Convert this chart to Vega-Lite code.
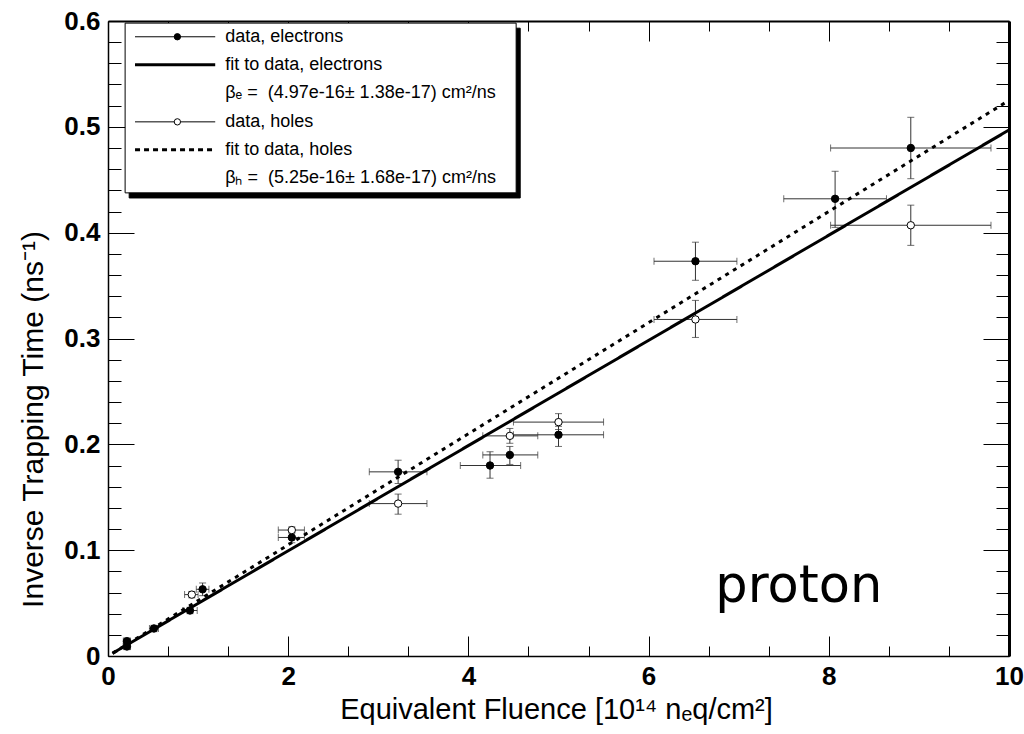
{
  "$schema": "https://vega.github.io/schema/vega-lite/v6.json",
  "width": 901,
  "height": 635,
  "autosize": "none",
  "padding": {"left": 108, "top": 21, "right": 15, "bottom": 78},
  "background": "white",
  "config": {"view": {"stroke": null}, "axis": {"grid": false, "tickColor": "black", "domainColor": "black"}},
  "datasets": {
    "pts": [
      {"type": "electrons", "x": 0.21, "y": 0.009, "xlo": 0.17, "xhi": 0.25, "ylo": 0.006, "yhi": 0.012},
      {"type": "electrons", "x": 0.21, "y": 0.014, "xlo": 0.17, "xhi": 0.25, "ylo": 0.011, "yhi": 0.017},
      {"type": "electrons", "x": 0.51, "y": 0.026, "xlo": 0.46, "xhi": 0.56, "ylo": 0.023, "yhi": 0.029},
      {"type": "electrons", "x": 0.91, "y": 0.043, "xlo": 0.83, "xhi": 0.99, "ylo": 0.040, "yhi": 0.046},
      {"type": "electrons", "x": 1.05, "y": 0.063, "xlo": 0.98, "xhi": 1.12, "ylo": 0.057, "yhi": 0.069},
      {"type": "electrons", "x": 2.04, "y": 0.112, "xlo": 1.89, "xhi": 2.18, "ylo": 0.107, "yhi": 0.117},
      {"type": "electrons", "x": 3.22, "y": 0.174, "xlo": 2.90, "xhi": 3.54, "ylo": 0.163, "yhi": 0.185},
      {"type": "electrons", "x": 4.24, "y": 0.180, "xlo": 3.91, "xhi": 4.58, "ylo": 0.168, "yhi": 0.193},
      {"type": "electrons", "x": 4.46, "y": 0.190, "xlo": 4.16, "xhi": 4.77, "ylo": 0.181, "yhi": 0.198},
      {"type": "electrons", "x": 5.00, "y": 0.209, "xlo": 4.50, "xhi": 5.50, "ylo": 0.198, "yhi": 0.217},
      {"type": "electrons", "x": 6.52, "y": 0.373, "xlo": 6.06, "xhi": 6.98, "ylo": 0.355, "yhi": 0.391},
      {"type": "electrons", "x": 8.07, "y": 0.432, "xlo": 7.50, "xhi": 8.64, "ylo": 0.405, "yhi": 0.458},
      {"type": "electrons", "x": 8.91, "y": 0.480, "xlo": 8.02, "xhi": 9.80, "ylo": 0.451, "yhi": 0.509},
      {"type": "holes", "x": 0.93, "y": 0.058, "xlo": 0.85, "xhi": 1.00, "ylo": 0.055, "yhi": 0.061},
      {"type": "holes", "x": 2.04, "y": 0.119, "xlo": 1.89, "xhi": 2.18, "ylo": 0.116, "yhi": 0.122},
      {"type": "holes", "x": 3.22, "y": 0.144, "xlo": 2.90, "xhi": 3.54, "ylo": 0.134, "yhi": 0.153},
      {"type": "holes", "x": 4.46, "y": 0.208, "xlo": 4.16, "xhi": 4.77, "ylo": 0.201, "yhi": 0.215},
      {"type": "holes", "x": 5.00, "y": 0.221, "xlo": 4.50, "xhi": 5.50, "ylo": 0.214, "yhi": 0.229},
      {"type": "holes", "x": 6.52, "y": 0.318, "xlo": 6.06, "xhi": 6.98, "ylo": 0.301, "yhi": 0.336},
      {"type": "holes", "x": 8.91, "y": 0.407, "xlo": 8.02, "xhi": 9.80, "ylo": 0.388, "yhi": 0.426}
    ],
    "fit": [
      {"type": "electrons", "x": 0.05, "y": 0.0025},
      {"type": "electrons", "x": 10, "y": 0.497},
      {"type": "holes", "x": 0.05, "y": 0.0026},
      {"type": "holes", "x": 10, "y": 0.525}
    ],
    "legbox": [
      {"part": "shadow", "x": 0.235, "x2": 4.575, "y": 0.4328, "y2": 0.5932},
      {"part": "box", "x": 0.19, "x2": 4.53, "y": 0.4376, "y2": 0.598}
    ],
    "leglines": [
      {"entry": "data, electrons", "x": 0.30, "x2": 1.19, "y": 0.5851},
      {"entry": "fit to data, electrons", "x": 0.30, "x2": 1.19, "y": 0.5586},
      {"entry": "data, holes", "x": 0.30, "x2": 1.19, "y": 0.5047},
      {"entry": "fit to data, holes", "x": 0.30, "x2": 1.19, "y": 0.4783}
    ],
    "legmarks": [
      {"type": "electrons", "x": 0.77, "y": 0.5851},
      {"type": "holes", "x": 0.77, "y": 0.5047}
    ],
    "legtext": [
      {"label": "data, electrons", "x": 1.30, "y": 0.5851},
      {"label": "fit to data, electrons", "x": 1.30, "y": 0.5586},
      {"label": "βₑ = \u00a0(4.97e-16± 1.38e-17) cm²/ns", "x": 1.30, "y": 0.5321},
      {"label": "data, holes", "x": 1.30, "y": 0.5047},
      {"label": "fit to data, holes", "x": 1.30, "y": 0.4783},
      {"label": "βₕ = \u00a0(5.25e-16± 1.68e-17) cm²/ns", "x": 1.30, "y": 0.4518}
    ],
    "note": [{"label": "proton", "x": 6.74, "y": 0.051}]
  },
  "resolve": {
    "axis": {"x": "independent", "y": "independent"},
    "scale": {"strokeDash": "independent", "strokeWidth": "independent", "fill": "independent", "stroke": "independent"}
  },
  "layer": [
    {
      "data": {"name": "pts"},
      "mark": {"type": "rule", "color": "#333", "strokeWidth": 1},
      "encoding": {
        "x": {"field": "xlo", "type": "quantitative", "scale": {"domain": [0, 10], "nice": false, "zero": false},
          "axis": {"orient": "bottom", "values": [0, 2, 4, 6, 8, 10], "ticks": false, "tickSize": 0, "labelPadding": 7,
            "labelFont": "Liberation Sans", "labelFontSize": 26, "labelFontWeight": "bold", "labelColor": "black", "labelFlush": false,
            "domain": true, "domainWidth": 1.5,
            "title": "Equivalent Fluence [10¹⁴ nₑq/cm²]", "titleFont": "Liberation Sans", "titleFontSize": 29, "titleFontWeight": "normal",
            "titleColor": "black", "titleX": 448, "titleY": 62, "titleAlign": "center", "titleBaseline": "alphabetic", "titleAnchor": null}},
        "x2": {"field": "xhi"},
        "y": {"field": "y", "type": "quantitative", "scale": {"domain": [0, 0.6], "nice": false, "zero": false},
          "axis": {"orient": "left", "values": [0, 0.1, 0.2, 0.3, 0.4, 0.5, 0.6], "format": ".1~f", "ticks": false, "tickSize": 0, "labelPadding": 8,
            "labelFont": "Liberation Sans", "labelFontSize": 26, "labelFontWeight": "bold", "labelColor": "black", "labelFlush": false,
            "domain": true, "domainWidth": 1.5,
            "title": "Inverse Trapping Time (ns⁻¹)", "titleFont": "Liberation Sans", "titleFontSize": 30, "titleFontWeight": "normal",
            "titleColor": "black", "titleX": -66, "titleY": 398, "titleAngle": 270, "titleAlign": "center", "titleBaseline": "alphabetic"}}
      }
    },
    {
      "data": {"name": "pts"},
      "mark": {"type": "rule", "color": "#333", "strokeWidth": 1},
      "encoding": {
        "x": {"field": "x", "type": "quantitative", "scale": {"domain": [0, 10], "nice": false, "zero": false},
          "axis": {"orient": "bottom", "values": [0, 2, 4, 6, 8, 10], "tickSize": -20, "tickWidth": 1, "labels": false, "domain": false, "title": null}},
        "y": {"field": "ylo", "type": "quantitative", "scale": {"domain": [0, 0.6], "nice": false, "zero": false},
          "axis": {"orient": "left", "values": [0, 0.1, 0.2, 0.3, 0.4, 0.5, 0.6], "tickSize": -26, "tickWidth": 1, "labels": false, "domain": false, "title": null}},
        "y2": {"field": "yhi"}
      }
    },
    {
      "data": {"name": "pts"},
      "mark": {"type": "tick", "orient": "vertical", "size": 7, "thickness": 1, "color": "#333"},
      "encoding": {
        "x": {"field": "xlo", "type": "quantitative", "scale": {"domain": [0, 10], "nice": false, "zero": false},
          "axis": {"orient": "bottom", "values": [0.6667, 1.3333, 2.6667, 3.3333, 4.6667, 5.3333, 6.6667, 7.3333, 8.6667, 9.3333], "tickSize": -10, "tickWidth": 1, "labels": false, "domain": false, "title": null}},
        "y": {"field": "y", "type": "quantitative", "scale": {"domain": [0, 0.6], "nice": false, "zero": false},
          "axis": {"orient": "left", "values": [0.02, 0.04, 0.06, 0.08, 0.12, 0.14, 0.16, 0.18, 0.22, 0.24, 0.26, 0.28, 0.32, 0.34, 0.36, 0.38, 0.42, 0.44, 0.46, 0.48, 0.52, 0.54, 0.56, 0.58], "tickSize": -13, "tickWidth": 1, "labels": false, "domain": false, "title": null}}
      }
    },
    {
      "data": {"name": "pts"},
      "mark": {"type": "tick", "orient": "vertical", "size": 7, "thickness": 1, "color": "#333"},
      "encoding": {
        "x": {"field": "xhi", "type": "quantitative", "scale": {"domain": [0, 10], "nice": false, "zero": false},
          "axis": {"orient": "top", "values": [0, 2, 4, 6, 8, 10], "tickSize": -20, "tickWidth": 1, "labels": false, "domain": true, "domainWidth": 2, "title": null}},
        "y": {"field": "y", "type": "quantitative", "scale": {"domain": [0, 0.6], "nice": false, "zero": false},
          "axis": {"orient": "right", "values": [0, 0.1, 0.2, 0.3, 0.4, 0.5, 0.6], "tickSize": -26, "tickWidth": 1, "labels": false, "domain": true, "domainWidth": 3, "title": null}}
      }
    },
    {
      "data": {"name": "pts"},
      "mark": {"type": "tick", "orient": "horizontal", "size": 7, "thickness": 1, "color": "#333"},
      "encoding": {
        "x": {"field": "x", "type": "quantitative", "scale": {"domain": [0, 10], "nice": false, "zero": false},
          "axis": {"orient": "top", "values": [0.6667, 1.3333, 2.6667, 3.3333, 4.6667, 5.3333, 6.6667, 7.3333, 8.6667, 9.3333], "tickSize": -10, "tickWidth": 1, "labels": false, "domain": false, "title": null}},
        "y": {"field": "ylo", "type": "quantitative", "scale": {"domain": [0, 0.6], "nice": false, "zero": false},
          "axis": {"orient": "right", "values": [0.02, 0.04, 0.06, 0.08, 0.12, 0.14, 0.16, 0.18, 0.22, 0.24, 0.26, 0.28, 0.32, 0.34, 0.36, 0.38, 0.42, 0.44, 0.46, 0.48, 0.52, 0.54, 0.56, 0.58], "tickSize": -13, "tickWidth": 1, "labels": false, "domain": false, "title": null}}
      }
    },
    {
      "data": {"name": "pts"},
      "mark": {"type": "tick", "orient": "horizontal", "size": 7, "thickness": 1, "color": "#333"},
      "encoding": {
        "x": {"field": "x", "type": "quantitative", "scale": {"domain": [0, 10], "nice": false, "zero": false}, "axis": null},
        "y": {"field": "yhi", "type": "quantitative", "scale": {"domain": [0, 0.6], "nice": false, "zero": false}, "axis": null}
      }
    },
    {
      "data": {"name": "fit"},
      "mark": {"type": "line", "color": "black", "strokeWidth": 3},
      "encoding": {
        "x": {"field": "x", "type": "quantitative", "scale": {"domain": [0, 10], "nice": false, "zero": false}, "axis": null},
        "y": {"field": "y", "type": "quantitative", "scale": {"domain": [0, 0.6], "nice": false, "zero": false}, "axis": null},
        "detail": {"field": "type"},
        "strokeDash": {"field": "type", "type": "nominal", "scale": {"type": "ordinal", "domain": ["electrons", "holes"], "range": [[1, 0], [4, 5]]}, "legend": null}
      }
    },
    {
      "data": {"name": "pts"},
      "mark": {"type": "point", "shape": "circle", "size": 55, "stroke": "black", "strokeWidth": 1, "opacity": 1, "filled": false},
      "encoding": {
        "x": {"field": "x", "type": "quantitative", "scale": {"domain": [0, 10], "nice": false, "zero": false}, "axis": null},
        "y": {"field": "y", "type": "quantitative", "scale": {"domain": [0, 0.6], "nice": false, "zero": false}, "axis": null},
        "fill": {"field": "type", "type": "nominal", "scale": {"domain": ["electrons", "holes"], "range": ["black", "white"]}, "legend": null}
      }
    },
    {
      "mark": {"type": "rule", "color": "#d00000", "strokeWidth": 1.5},
      "encoding": {
        "y": {"datum": 0, "type": "quantitative", "scale": {"domain": [0, 0.6], "nice": false, "zero": false}, "axis": null}
      }
    },
    {
      "data": {"name": "legbox"},
      "mark": {"type": "rect", "strokeWidth": 1, "stroke": "black"},
      "encoding": {
        "x": {"field": "x", "type": "quantitative", "scale": {"domain": [0, 10], "nice": false, "zero": false}, "axis": null},
        "x2": {"field": "x2"},
        "y": {"field": "y", "type": "quantitative", "scale": {"domain": [0, 0.6], "nice": false, "zero": false}, "axis": null},
        "y2": {"field": "y2"},
        "fill": {"field": "part", "type": "nominal", "scale": {"domain": ["shadow", "box"], "range": ["black", "white"]}, "legend": null},
        "order": {"field": "part", "sort": "descending"}
      }
    },
    {
      "data": {"name": "leglines"},
      "mark": {"type": "rule", "color": "black"},
      "encoding": {
        "x": {"field": "x", "type": "quantitative", "scale": {"domain": [0, 10], "nice": false, "zero": false}, "axis": null},
        "x2": {"field": "x2"},
        "y": {"field": "y", "type": "quantitative", "scale": {"domain": [0, 0.6], "nice": false, "zero": false}, "axis": null},
        "strokeWidth": {"field": "entry", "type": "nominal", "scale": {"type": "ordinal", "domain": ["data, electrons", "fit to data, electrons", "data, holes", "fit to data, holes"], "range": [1, 3, 1, 3]}, "legend": null},
        "strokeDash": {"field": "entry", "type": "nominal", "scale": {"type": "ordinal", "domain": ["data, electrons", "fit to data, electrons", "data, holes", "fit to data, holes"], "range": [[1, 0], [1, 0], [1, 0], [5, 4]]}, "legend": null}
      }
    },
    {
      "data": {"name": "legmarks"},
      "mark": {"type": "point", "shape": "circle", "size": 40, "stroke": "black", "strokeWidth": 1, "opacity": 1, "filled": false},
      "encoding": {
        "x": {"field": "x", "type": "quantitative", "scale": {"domain": [0, 10], "nice": false, "zero": false}, "axis": null},
        "y": {"field": "y", "type": "quantitative", "scale": {"domain": [0, 0.6], "nice": false, "zero": false}, "axis": null},
        "fill": {"field": "type", "type": "nominal", "scale": {"domain": ["electrons", "holes"], "range": ["black", "white"]}, "legend": null}
      }
    },
    {
      "data": {"name": "legtext"},
      "mark": {"type": "text", "align": "left", "baseline": "middle", "font": "Liberation Sans", "fontSize": 18, "color": "black"},
      "encoding": {
        "x": {"field": "x", "type": "quantitative", "scale": {"domain": [0, 10], "nice": false, "zero": false}, "axis": null},
        "y": {"field": "y", "type": "quantitative", "scale": {"domain": [0, 0.6], "nice": false, "zero": false}, "axis": null},
        "text": {"field": "label"}
      }
    },
    {
      "data": {"name": "note"},
      "mark": {"type": "text", "align": "left", "baseline": "alphabetic", "font": "DejaVu Sans", "fontSize": 51, "color": "black"},
      "encoding": {
        "x": {"field": "x", "type": "quantitative", "scale": {"domain": [0, 10], "nice": false, "zero": false}, "axis": null},
        "y": {"field": "y", "type": "quantitative", "scale": {"domain": [0, 0.6], "nice": false, "zero": false}, "axis": null},
        "text": {"field": "label"}
      }
    }
  ]
}
